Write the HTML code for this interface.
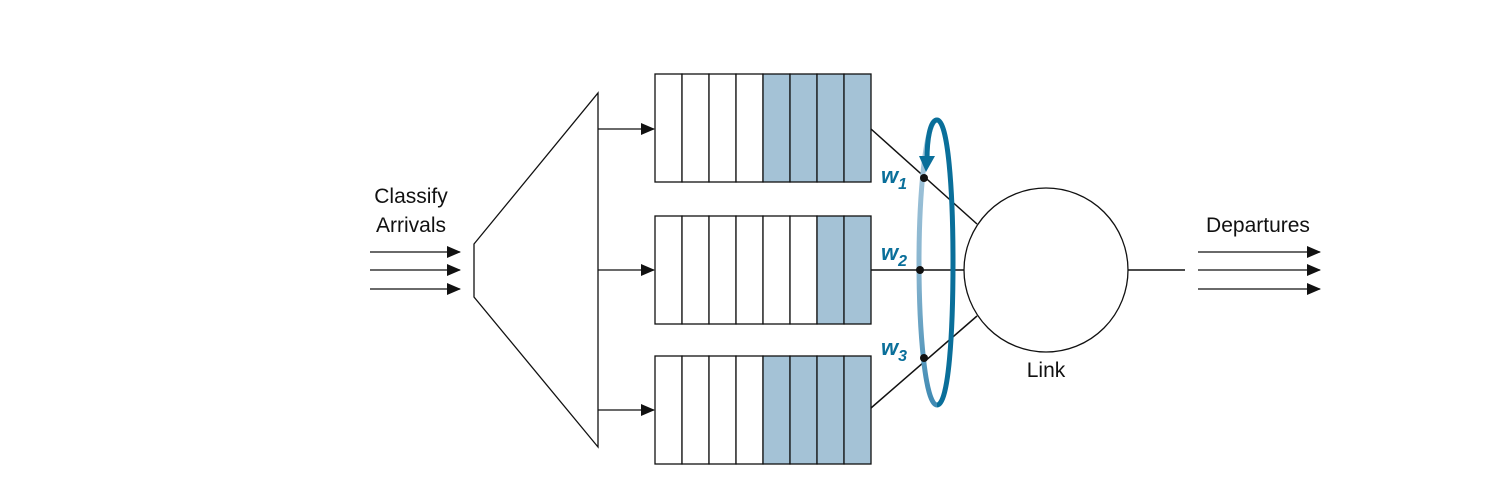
<!DOCTYPE html>
<html><head><meta charset="utf-8"><style>
html,body{margin:0;padding:0;background:#fff;}
svg{display:block;font-family:"Liberation Sans",sans-serif;}
</style></head><body>
<svg width="1510" height="493" viewBox="0 0 1510 493">
<defs>
<marker id="ah2" markerWidth="14" markerHeight="12" refX="13" refY="6" orient="auto" markerUnits="userSpaceOnUse">
<path d="M0,0 L14,6 L0,12 Z" fill="#111"/></marker>
<linearGradient id="rg" x1="0" y1="0" x2="0" y2="1">
<stop offset="0" stop-color="#a8c8dc"/><stop offset="0.5" stop-color="#8ab6d0"/><stop offset="1" stop-color="#3f8ab3"/></linearGradient>
</defs>
<g stroke="#111" stroke-width="1.3" marker-end="url(#ah2)">
<line x1="370" y1="252" x2="460" y2="252"/><line x1="370" y1="270" x2="460" y2="270"/><line x1="370" y1="289" x2="460" y2="289"/>
</g>
<text x="411" y="203" text-anchor="middle" font-size="21" fill="#111">Classify</text>
<text x="411" y="232" text-anchor="middle" font-size="21" fill="#111">Arrivals</text>
<polygon points="474,244 598,93 598,447 474,297" fill="#fff" stroke="#111" stroke-width="1.3"/>
<g stroke="#111" stroke-width="1.3" marker-end="url(#ah2)">
<line x1="598" y1="129" x2="654" y2="129"/><line x1="598" y1="270" x2="654" y2="270"/><line x1="598" y1="410" x2="654" y2="410"/>
</g>
<g id="queues"></g>
<g stroke="#111" stroke-width="1.5">
<line x1="871" y1="129" x2="977" y2="224"/><line x1="871" y1="270" x2="964" y2="270"/><line x1="871" y1="408" x2="977" y2="316"/>
<line x1="1128" y1="270" x2="1185" y2="270"/>
</g>
<path d="M937,120 C925,120 919,200 919,262 C919,330 925,405 937,405" fill="none" stroke="url(#rg)" stroke-width="5"/>
<path d="M937,405 C949,405 953,330 953,262 C953,190 948,120 937,120 C930,120 927,140 927,160" fill="none" stroke="#0a6f9a" stroke-width="5"/>
<path d="M919,156 L935,156 L926,172 Z" fill="#0a6f9a"/>
<g fill="#111">
<circle cx="924" cy="178" r="4"/><circle cx="920" cy="270" r="4"/><circle cx="924" cy="358" r="4"/></g>
<g fill="#0a6f9a" font-weight="bold" font-style="italic" font-size="22">
<text x="881" y="183">w<tspan font-size="16" dy="6">1</tspan></text>
<text x="881" y="260">w<tspan font-size="16" dy="6">2</tspan></text>
<text x="881" y="355">w<tspan font-size="16" dy="6">3</tspan></text>
</g>
<circle cx="1046" cy="270" r="82" fill="#fff" stroke="#111" stroke-width="1.3"/>
<text x="1046" y="377" text-anchor="middle" font-size="21" fill="#111">Link</text>
<text x="1258" y="232" text-anchor="middle" font-size="21" fill="#111">Departures</text>
<g stroke="#111" stroke-width="1.3" marker-end="url(#ah2)">
<line x1="1198" y1="252" x2="1320" y2="252"/><line x1="1198" y1="270" x2="1320" y2="270"/><line x1="1198" y1="289" x2="1320" y2="289"/>
</g>
</svg>
<script>
const queueTops=[74,216,356];
const filledCounts=[4,2,4];
const g=document.getElementById('queues');
const NS='http://www.w3.org/2000/svg';
queueTops.forEach((top,qi)=>{
  for(let c=0;c<8;c++){
    const r=document.createElementNS(NS,'rect');
    r.setAttribute('x',655+c*27);r.setAttribute('y',top);
    r.setAttribute('width',27);r.setAttribute('height',108);
    r.setAttribute('fill',c>=8-filledCounts[qi]?'#a4c2d6':'#fff');
    r.setAttribute('stroke','#111');r.setAttribute('stroke-width','1.3');
    
    
    g.appendChild(r);
  }
});
</script>
</body></html>
